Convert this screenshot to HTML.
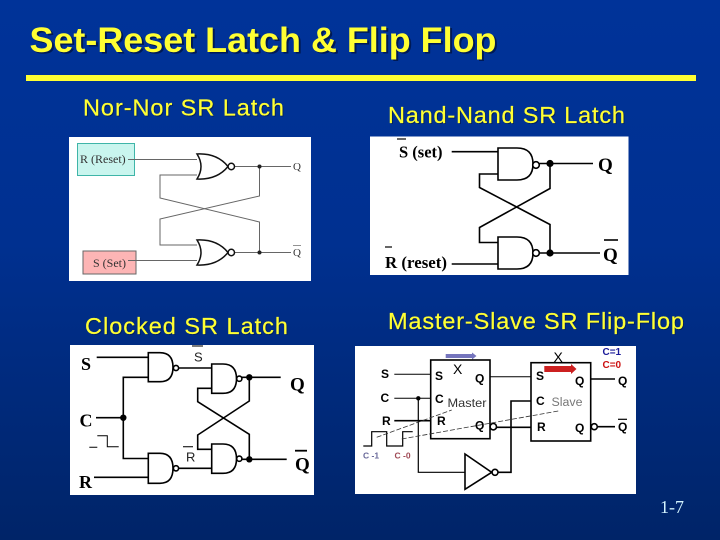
<!DOCTYPE html>
<html>
<head>
<meta charset="utf-8">
<style>
html,body{margin:0;padding:0;background:#003399;}
svg{display:block;}
.sans{font-family:"Liberation Sans",sans-serif;}
.serif{font-family:"Liberation Serif",serif;}
.w{fill:none;stroke:#000;stroke-width:1.6;}
.g{fill:#fff;stroke:#000;stroke-width:1.6;}
.hd{font-family:"Liberation Sans",sans-serif;font-size:23.5px;fill:#ffff33;stroke:#ffff33;stroke-width:0.2;}
.hs{font-family:"Liberation Sans",sans-serif;font-size:23.5px;fill:#001f60;}
.b{font-family:"Liberation Serif",serif;font-weight:bold;fill:#000;}
.s{font-family:"Liberation Sans",sans-serif;font-weight:bold;fill:#000;font-size:12px;}
</style>
</head>
<body>
<svg width="720" height="540" viewBox="0 0 720 540" xmlns="http://www.w3.org/2000/svg">
<defs>
<linearGradient id="bg" x1="0" y1="0" x2="0" y2="1">
<stop offset="0" stop-color="#003399"/>
<stop offset="0.45" stop-color="#003090"/>
<stop offset="1" stop-color="#002468"/>
</linearGradient>
</defs>
<rect width="720" height="540" fill="url(#bg)"/>

<text x="31.5" y="53.5" class="sans" font-size="35" font-weight="bold" fill="#001a55" textLength="467" lengthAdjust="spacingAndGlyphs">Set-Reset Latch &amp; Flip Flop</text>
<text x="29.5" y="52" class="sans" font-size="35" font-weight="bold" fill="#ffff33" textLength="467" lengthAdjust="spacingAndGlyphs">Set-Reset Latch &amp; Flip Flop</text>
<rect x="26" y="75" width="670" height="6" fill="#ffff33"/>

<text x="84" y="116.5" class="hs" textLength="201">Nor-Nor SR Latch</text>
<text x="389" y="124" class="hs" textLength="237">Nand-Nand SR Latch</text>
<text x="86" y="335" class="hs" textLength="203">Clocked SR Latch</text>
<text x="389" y="330" class="hs" textLength="296">Master-Slave SR Flip-Flop</text>
<text x="83" y="115.5" class="hd" textLength="201">Nor-Nor SR Latch</text>
<text x="388" y="123" class="hd" textLength="237">Nand-Nand SR Latch</text>
<text x="85" y="334" class="hd" textLength="203">Clocked SR Latch</text>
<text x="388" y="329" class="hd" textLength="296">Master-Slave SR Flip-Flop</text>

<!-- NOR -->
<rect x="69" y="137" width="242" height="144" fill="#fff"/>
<rect x="77.5" y="143.5" width="57" height="32" fill="#c9f5ee" stroke="#3fb5a8" stroke-width="1"/>
<rect x="83" y="251" width="53" height="23" fill="#fdb5b5" stroke="#666" stroke-width="1"/>
<text x="80" y="163" class="serif" font-size="12" fill="#333">R (Reset)</text>
<text x="93" y="267" class="serif" font-size="12" fill="#333">S (Set)</text>
<g fill="none" stroke="#666" stroke-width="1">
<path d="M128 159.5H197"/>
<path d="M128 260.5H197"/>
<path d="M234.5 166.5H291"/>
<path d="M234.5 252.5H291"/>
<path d="M197 175H160V198L259.5 222V252.5"/>
<path d="M197 245H160V219L259.5 196V166.5"/>
</g>
<g fill="#fff" stroke="#111" stroke-width="1.5">
<path d="M197 154Q217 153 228 166.5Q217 180 197 179Q205 166.5 197 154Z"/>
<path d="M197 240Q217 239 228 252.5Q217 266 197 265Q205 252.5 197 240Z"/>
<circle cx="231.3" cy="166.5" r="3.2"/>
<circle cx="231.3" cy="252.5" r="3.2"/>
</g>
<circle cx="259.5" cy="166.5" r="2" fill="#222"/>
<circle cx="259.5" cy="252.5" r="2" fill="#222"/>
<text x="293" y="170" class="serif" font-size="11" fill="#333">Q</text>
<text x="293" y="256" class="serif" font-size="11" fill="#333">Q</text>
<path d="M293 245.5H301" stroke="#777" stroke-width="0.8"/>

<!-- NAND -->
<rect x="370" y="136.5" width="258.5" height="138.5" fill="#fff"/>
<g class="w">
<path d="M451.7 151.7H498"/>
<path d="M451.7 264H498"/>
<path d="M539.5 163.5H593"/>
<path d="M539.5 253H600"/>
<path d="M498 174H479.5V187.5L550 224.5V253"/>
<path d="M498 242.5H479.5V227.5L550 188.5V163.5"/>
</g>
<g class="g">
<path d="M498 148H517Q533 148 533 164Q533 180 517 180H498Z"/>
<path d="M498 237H517Q533 237 533 253Q533 269 517 269H498Z"/>
<circle cx="536" cy="165" r="3.3"/>
<circle cx="536" cy="253" r="3.3"/>
</g>
<circle cx="550" cy="163.5" r="3.6" fill="#000"/>
<circle cx="550" cy="253" r="3.6" fill="#000"/>
<text x="399" y="157.5" class="b" font-size="16.5">S (set)</text>
<path d="M397 139H406" stroke="#000" stroke-width="1.2"/>
<text x="385" y="268" class="b" font-size="16.5" textLength="62" lengthAdjust="spacingAndGlyphs">R (reset)</text>
<path d="M385 247H392" stroke="#000" stroke-width="1.2"/>
<text x="598" y="171" class="b" font-size="19">Q</text>
<text x="603" y="261" class="b" font-size="19">Q</text>
<path d="M604 240H618" stroke="#000" stroke-width="1.6"/>

<!-- CLOCKED -->
<rect x="70" y="345" width="244" height="150" fill="#fff"/>
<g class="w">
<path d="M96.7 357.3H148.3"/>
<path d="M96 417.7H123.3"/>
<path d="M148.3 377.3H123.3V458.5H148.3"/>
<path d="M94 477.3H148.3"/>
<path d="M178.7 368H211.7"/>
<path d="M178.7 468.3H211.7"/>
<path d="M242 377.3H280.7"/>
<path d="M242 459.3H286.7"/>
<path d="M211.7 388.3H197.7V401.7L249.3 434.3V459.3"/>
<path d="M211.7 449.3H197.7V435L249.3 401V377.3"/>
</g>
<path d="M89.3 447.3H97.3M97.3 435.7H107.3V446.7H118.7" fill="none" stroke="#000" stroke-width="1"/>
<g class="g">
<path d="M148.3 352.7H160Q173 352.7 173 367.2Q173 381.7 160 381.7H148.3Z"/>
<path d="M148.3 453.3H160Q173 453.3 173 468.3Q173 483.3 160 483.3H148.3Z"/>
<path d="M211.7 364H223Q236.5 364 236.5 378.7Q236.5 393.3 223 393.3H211.7Z"/>
<path d="M211.7 444H223Q236.5 444 236.5 458.7Q236.5 473.3 223 473.3H211.7Z"/>
<circle cx="176" cy="368" r="2.6"/>
<circle cx="176" cy="468.3" r="2.6"/>
<circle cx="239.3" cy="378.7" r="2.6"/>
<circle cx="239.3" cy="458.7" r="2.6"/>
</g>
<circle cx="249.3" cy="377.3" r="3.2" fill="#000"/>
<circle cx="249.3" cy="459.3" r="3.2" fill="#000"/>
<circle cx="123.3" cy="417.7" r="3.2" fill="#000"/>
<text x="81" y="370" class="b" font-size="18">S</text>
<text x="79.5" y="426.5" class="b" font-size="18">C</text>
<text x="79" y="488" class="b" font-size="18">R</text>
<text x="290" y="390.5" class="b" font-size="19">Q</text>
<text x="295" y="470.5" class="b" font-size="19">Q</text>
<path d="M295 450.7H307" stroke="#000" stroke-width="1.8"/>
<text x="194" y="361.5" class="sans" font-size="13" fill="#222">S</text>
<path d="M192 346H203" stroke="#222" stroke-width="1.2"/>
<text x="186" y="461.5" class="sans" font-size="13" fill="#222">R</text>
<path d="M183 446.7H193" stroke="#222" stroke-width="1.2"/>

<!-- MASTER SLAVE -->
<rect x="355" y="346" width="281" height="148" fill="#fff"/>
<path d="M445.7 354H472V352.5L476.5 356L472 359.5V358H445.7Z" fill="#7575bd"/>
<g fill="none" stroke="#000" stroke-width="1.6">
<rect x="430.7" y="360" width="59.3" height="78.7"/>
<rect x="531" y="362.7" width="59.7" height="78.3"/>
<path d="M490 376.7H531" stroke-width="1"/>
<path d="M496.7 427.3H531"/>
<path d="M590.7 379H615"/>
<path d="M598 426.7H615"/>
<path d="M394.3 420.7H430.7"/>
<path d="M498 472.3H511V401H531"/>
<path d="M418.3 398.3V472.3H465" stroke-width="1.2"/>
<circle cx="493.3" cy="426.7" r="3.2"/>
<circle cx="594.3" cy="426.7" r="3"/>
<circle cx="495" cy="472.3" r="3"/>
<path d="M465 454V489.3L491.7 472.3Z"/>
</g>
<path d="M394.3 374.3H430.7M394.3 398.3H430.7" stroke="#000" stroke-width="1" fill="none"/>
<circle cx="418.3" cy="398.3" r="2.2" fill="#000"/>
<path d="M544.3 366H571V364L576.5 369L571 374V372H544.3Z" fill="#cc2020"/>
<path d="M363.3 446H371.7V431.7H386.7V446H402.7V431.7H412.7" fill="none" stroke="#000" stroke-width="1.2"/>
<path d="M376.7 437.3L451.7 410M401.7 439L560 410.7" fill="none" stroke="#333" stroke-width="0.8" stroke-dasharray="5 2"/>
<text x="453" y="374" class="sans" font-size="14" fill="#000">X</text>
<text x="553.5" y="362" class="sans" font-size="14" fill="#000">X</text>
<text x="602.5" y="355" class="sans" font-size="10" font-weight="bold" fill="#1a1a99">C=1</text>
<text x="602.5" y="368" class="sans" font-size="10" font-weight="bold" fill="#cc1111">C=0</text>
<text x="381" y="378" class="s">S</text>
<text x="380.5" y="402" class="s">C</text>
<text x="382" y="425" class="s">R</text>
<text x="435" y="380" class="s">S</text>
<text x="435" y="403" class="s">C</text>
<text x="437" y="425" class="s">R</text>
<text x="475" y="382.5" class="s">Q</text>
<text x="475" y="429.5" class="s">Q</text>
<text x="536" y="380" class="s">S</text>
<text x="536" y="405" class="s">C</text>
<text x="537" y="431" class="s">R</text>
<text x="575" y="385" class="s">Q</text>
<text x="575" y="432" class="s">Q</text>
<text x="618" y="385" class="s">Q</text>
<text x="618" y="431" class="s">Q</text>
<path d="M618 419.3H627" stroke="#000" stroke-width="1.2"/>
<text x="447.5" y="407" class="sans" font-size="12" fill="#333" textLength="39" lengthAdjust="spacingAndGlyphs">Master</text>
<text x="551.5" y="406" class="sans" font-size="11.5" fill="#777" textLength="31" lengthAdjust="spacingAndGlyphs">Slave</text>
<text x="363" y="458.5" class="sans" font-size="8.5" font-weight="bold" fill="#6a6a9a">C -1</text>
<text x="394.5" y="458.5" class="sans" font-size="8.5" font-weight="bold" fill="#a04a55">C -0</text>

<text x="660" y="513" class="serif" font-size="18" fill="#d5f5ff">1-7</text>
</svg>
</body>
</html>
